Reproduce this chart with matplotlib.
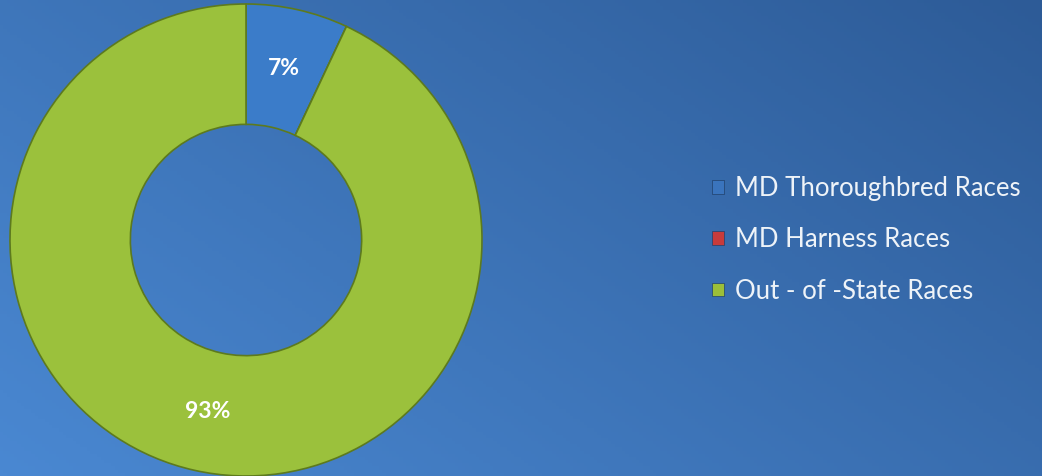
import numpy as np
import matplotlib
matplotlib.use("Agg")
import matplotlib.pyplot as plt
from matplotlib.patches import Patch
from matplotlib.colors import LinearSegmentedColormap

categories = ["MD Thoroughbred Races", "MD Harness Races", "Out - of -State Races"]
shares = [7, 0, 93]
colors = ["#3b7cc9", "#c0373a", "#9bc13c"]
legend_colors = ["#3a74bd", "#c83b3b", "#9cbf38"]

plt.rcParams['font.family'] = ['Lato', 'DejaVu Sans']

W, H = 1042, 476
fig = plt.figure(figsize=(W / 100, H / 100), dpi=100)

# background gradient: lighter bottom-left, darker top-right
bg = fig.add_axes([0, 0, 1, 1])
xx, yy = np.meshgrid(np.linspace(0, 1, 300), np.linspace(0, 1, 150))
t = 0.6 * xx + 0.4 * (1 - yy)
cmap = LinearSegmentedColormap.from_list("bg", ["#4a88d2", "#2d5b97"])
bg.imshow(t, cmap=cmap, aspect="auto", extent=[0, 1, 0, 1], origin="upper")
bg.axis("off")

# donut
cx, cy, r = 246, 240, 236
ax = fig.add_axes([(cx - r) / W, (H - cy - r) / H, 2 * r / W, 2 * r / H])


def fmt(p):
    return "%d%%" % round(p) if p >= 0.5 else ""


wedges, texts, autotexts = ax.pie(
    shares, colors=colors, startangle=90, counterclock=False,
    radius=1, autopct=fmt, pctdistance=0.745,
    wedgeprops=dict(width=0.51, edgecolor="#5d7a1e", linewidth=1.2),
    textprops=dict(color="white", fontsize=16.5, fontweight="bold"))
ax.set_xlim(-1, 1)
ax.set_ylim(-1, 1)
ax.set_aspect("equal")
ax.axis("off")

handles = [Patch(facecolor=c, edgecolor="#20406a", linewidth=0.5) for c in legend_colors]
leg = fig.legend(handles, categories, loc="center left",
                 bbox_to_anchor=(689 / W, 1 - 240 / H), frameon=False,
                 fontsize=18.5, labelcolor="#eef3f8", handlelength=0.45,
                 handleheight=0.45, handletextpad=0.45, labelspacing=1.02)

fig.savefig("out.png", dpi=100)
